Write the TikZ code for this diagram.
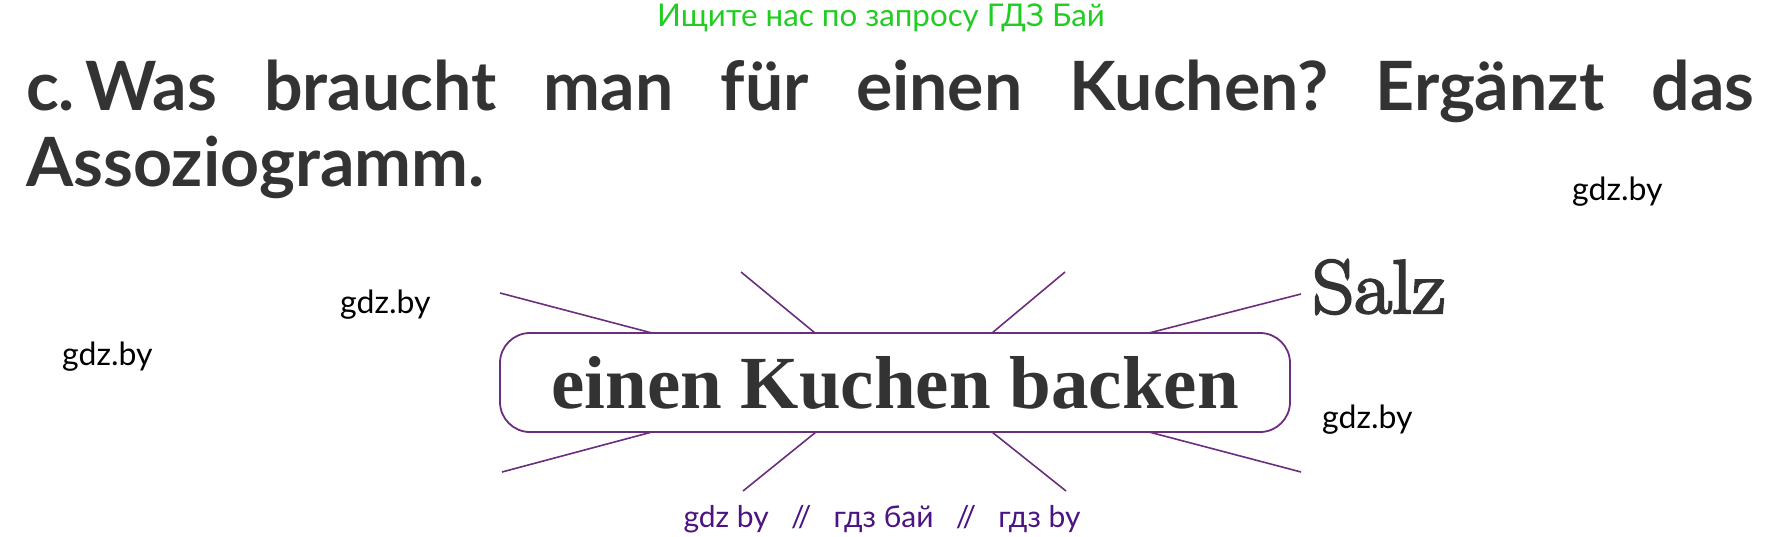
\documentclass[tikz,border=0pt]{standalone}
\usepackage{fontspec}
\usepackage{tikz}

\newfontfamily\latofont{Lato}
\newfontfamily\timesfont{Liberation Serif}
\newfontfamily\salzfont{Latin Modern Roman}[FakeBold=3]

\definecolor{inkgray}{RGB}{51,51,51}
\definecolor{raylila}{RGB}{107,45,125}
\definecolor{marklila}{RGB}{75,20,130}
\definecolor{searchgreen}{RGB}{34,204,34}

\frenchspacing

\begin{document}
\begin{tikzpicture}[x=1pt, y=-1pt,
  ray/.style={draw=raylila, line width=1.6pt},
  gdzmark/.style={anchor=base west, inner sep=0pt, font=\latofont\fontsize{32}{38}\selectfont}]

\useasboundingbox (0,0) rectangle (1768,537);

% Header
\node[anchor=base west, inner sep=0pt, text=searchgreen,
  font=\latofont\fontsize{31.3}{38}\selectfont] (search) at (657,27) {Ищите нас по запросу ГДЗ Бай};

% Task
\node[anchor=base west, inner sep=0pt, text width=1728pt, align=justify, text=inkgray,
  font=\latofont\bfseries\fontsize{68}{76}\selectfont] (task) at (26,111)
  {c.\kern 10pt Was braucht man für einen Kuchen? Ergänzt das\linebreak Assoziogramm.};

% Box
\node[draw=raylila, line width=1.8pt, rounded corners=30pt, outer sep=0pt,
  minimum width=790pt, minimum height=99pt, text=inkgray,
  font=\timesfont\bfseries\fontsize{75}{80}\selectfont] (box) at (895,382.5) {einen Kuchen backen};

% Salz
\node[anchor=base west, inner sep=0pt, text=inkgray,
  font=\salzfont\fontsize{76}{80}\selectfont] (salz) at (1312,313)
  {\scalebox{1.08}[1]{Salz}};

% Ray ends
\coordinate (tl) at (500,293);
\coordinate (tm) at (741,272);
\coordinate (tn) at (1065,272);
\coordinate (tr) at (1301,294);
\coordinate (bl) at (502,472);
\coordinate (bm) at (743,491);
\coordinate (bn) at (1066,491);
\coordinate (br) at (1301,472);

% Rays top
\draw[ray] ([xshift=152pt]box.north west) -- (tl);
\draw[ray] ([xshift=315pt]box.north west) -- (tm);
\draw[ray] ([xshift=492pt]box.north west) -- (tn);
\draw[ray] ([xshift=649pt]box.north west) -- (tr);

% Rays bottom
\draw[ray] ([xshift=152pt]box.south west) -- (bl);
\draw[ray] ([xshift=316pt]box.south west) -- (bm);
\draw[ray] ([xshift=492pt]box.south west) -- (bn);
\draw[ray] ([xshift=649pt]box.south west) -- (br);

% Watermarks
\node[gdzmark] (gdzA) at (1572,201) {gdz.by};
\node[gdzmark] (gdzB) at (340,313) {gdz.by};
\node[gdzmark] (gdzC) at (62,365) {gdz.by};
\node[gdzmark] (gdzD) at (1322,428) {gdz.by};

% Footer
\node[anchor=base, inner sep=0pt, text=marklila, font=\latofont\fontsize{30}{34}\selectfont] (footer) at (882,527)
  {gdz by\hspace{0.74em}//\hspace{0.74em}гдз бай\hspace{0.74em}//\hspace{0.74em}гдз by};

\end{tikzpicture}
\end{document}
